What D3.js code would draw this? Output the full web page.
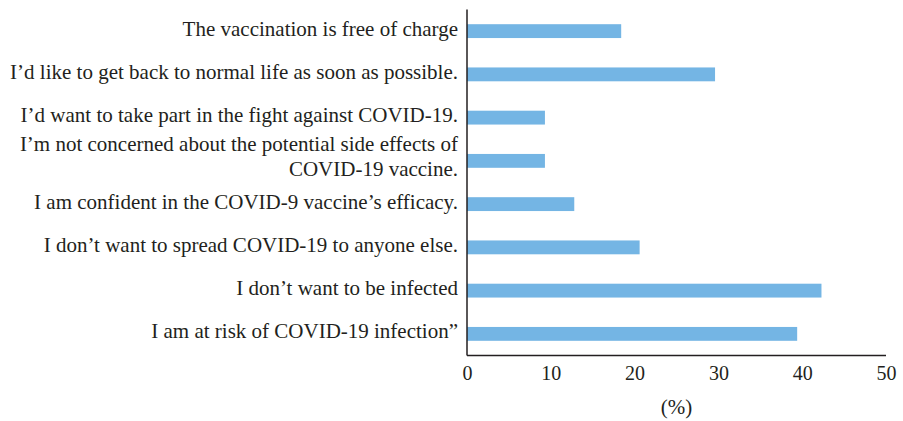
<!DOCTYPE html>
<html>
<head>
<meta charset="utf-8">
<style>
    body { margin: 0; background: #fff; }
    svg { display: block; font-family: 'Liberation Serif', 'DejaVu Serif', serif; }
    .tick line { display: none; }
    .domain { stroke: #231f20; stroke-width: 1.5px; }
    .label { font-size: 21px; fill: #231f20; }
    .x .tick text { font-family: 'Liberation Serif', 'DejaVu Serif', serif; font-size: 20px; fill: #231f20; }
</style>
</head>
<body>
<svg width="903" height="421"></svg>
<script src="https://d3js.org/d3.v7.min.js"></script>
<script>
// reasons, top to bottom
const reasons = [
    ["The vaccination is free of charge"],
    ["I\u2019d like to get back to normal life as soon as possible."],
    ["I\u2019d want to take part in the fight against COVID-19."],
    ["I\u2019m not concerned about the potential side effects of", "COVID-19 vaccine."],
    ["I am confident in the COVID-9 vaccine\u2019s efficacy."],
    ["I don\u2019t want to spread COVID-19 to anyone else."],
    ["I don\u2019t want to be infected"],
    ["I am at risk of COVID-19 infection\u201d"]
];
const percents = [18.4, 29.6, 9.3, 9.3, 12.8, 20.6, 42.3, 39.4];
const xTicks = [0, 10, 20, 30, 40, 50];

const svg = d3.select("svg");
const margin = { top: 9.5, right: 17, bottom: 65.5, left: 467 };
const width = 903, height = 421;

const x = d3.scaleLinear()
    .domain([0, 50])
    .range([margin.left, width - margin.right]);

const y = d3.scaleBand()
    .domain(d3.range(reasons.length))
    .range([margin.top, height - margin.bottom])
    .paddingInner(0.68)
    .paddingOuter(0.34);

svg.append("g")
    .selectAll("rect")
    .data(percents)
    .join("rect")
    .attr("x", x(0))
    .attr("y", (d, i) => y(i))
    .attr("width", d => x(d) - x(0))
    .attr("height", y.bandwidth())
    .attr("fill", "#74b5e4");

svg.append("g")
    .attr("class", "x")
    .attr("transform", `translate(0,${height - margin.bottom})`)
    .call(d3.axisBottom(x).tickValues(xTicks).tickSize(0).tickPadding(10).tickSizeOuter(0))
    .call(g => g.select(".domain").attr("d", `M${x(0)},0H${x(50)}`));

svg.append("line")
    .attr("x1", x(0)).attr("x2", x(0))
    .attr("y1", margin.top).attr("y2", height - margin.bottom)
    .attr("stroke", "#231f20")
    .attr("stroke-width", 1.5);

const labels = svg.append("g")
    .selectAll("text")
    .data(reasons)
    .join("text")
    .attr("class", "label")
    .attr("text-anchor", "end")
    .attr("y", (d, i) => y(i) + y.bandwidth() / 2);

labels.selectAll("tspan")
    .data(d => d.map((t, j) => ({ t, j, n: d.length })))
    .join("tspan")
    .attr("x", x(0) - 9)
    .attr("dy", d => d.j > 0 ? "1.2em" : (d.n > 1 ? "-0.48em" : "0.22em"))
    .text(d => d.t);

svg.append("text")
    .attr("class", "label")
    .attr("x", (x(0) + x(50)) / 2)
    .attr("y", 414)
    .attr("text-anchor", "middle")
    .text("(%)");
</script>
</body>
</html>
